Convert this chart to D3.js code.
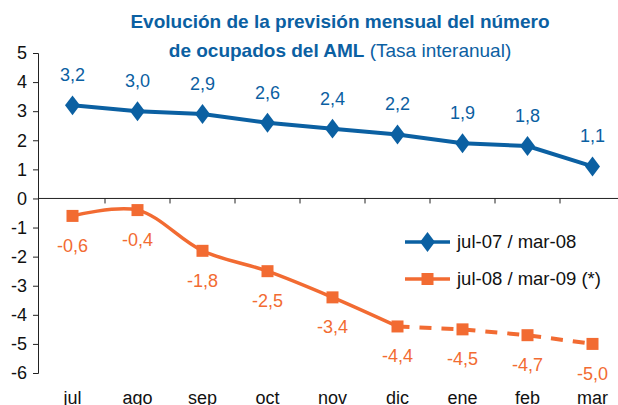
<!DOCTYPE html>
<html>
<head>
<meta charset="utf-8">
<script src="https://cdn.jsdelivr.net/npm/d3@7"></script>
<style>
  body { margin: 0; background: #fff; }
  text { font-family: "Liberation Sans", Arial, sans-serif; }
</style>
</head>
<body>
<script>
// data
var months = ["jul", "ago", "sep", "oct", "nov", "dic", "ene", "feb", "mar"];
var serie0708 = [3.2, 3.0, 2.9, 2.6, 2.4, 2.2, 1.9, 1.8, 1.1];
var serie0809 = [-0.6, -0.4, -1.8, -2.5, -3.4, -4.4, -4.5, -4.7, -5.0];
var yTicks = [5, 4, 3, 2, 1, 0, -1, -2, -3, -4, -5, -6];
var seriesNames = ["jul-07 / mar-08", "jul-08 / mar-09 (*)"];

var blue = "#0b60a2", orange = "#f26b32";
var W = 618, H = 405;

var svg = d3.select("body").append("svg")
  .attr("width", W)
  .attr("height", H);

var x = d3.scaleBand().domain(months).range([40, 625]);
var y = d3.scaleLinear().domain([-6, 5]).range([373, 53]);
// spanish decimals, plain hyphen for minus
var fmt = function(v) { return d3.format(".1f")(v).replace(".", ",").replace("\u2212", "-"); };

// title
svg.append("text")
  .attr("x", 340).attr("y", 28)
  .attr("text-anchor", "middle")
  .style("font-size", "19px").style("font-weight", "bold")
  .attr("fill", blue)
  .text("Evolución de la previsión mensual del número");
var t2 = svg.append("text")
  .attr("x", 340).attr("y", 57)
  .attr("text-anchor", "middle")
  .style("font-size", "19px")
  .attr("fill", blue);
t2.append("tspan").style("font-weight", "bold").text("de ocupados del AML");
t2.append("tspan").text(" (Tasa interanual)");

// y axis
var yAxis = svg.append("g")
  .attr("transform", "translate(38,0)")
  .call(d3.axisLeft(y).tickValues(yTicks).tickSize(5).tickPadding(6)
    .tickFormat(function(d) { return String(d); }));
yAxis.select(".domain").attr("stroke", "#222");
yAxis.selectAll(".tick line").attr("stroke", "#222");
yAxis.selectAll("text").style("font-size", "18px").attr("fill", "#111")
  .style("font-family", "'Liberation Sans', Arial, sans-serif");

// x axis on zero line
var xAxis = svg.append("g")
  .attr("transform", "translate(0," + y(0) + ")");
xAxis.append("line")
  .attr("x1", 38).attr("x2", W)
  .attr("stroke", "#222");
xAxis.selectAll("line.tk")
  .data(months.slice(1))
  .enter().append("line")
  .attr("class", "tk")
  .attr("x1", function(d) { return x(d); })
  .attr("x2", function(d) { return x(d); })
  .attr("y1", 0).attr("y2", 5)
  .attr("stroke", "#222");

// month labels
svg.selectAll("text.month")
  .data(months)
  .enter().append("text")
  .attr("class", "month")
  .attr("x", function(d) { return x(d) + x.bandwidth() / 2; })
  .attr("y", 404)
  .attr("text-anchor", "middle")
  .style("font-size", "18px")
  .attr("fill", "#111")
  .text(function(d) { return d; });

var cx = function(d, i) { return x(months[i]) + x.bandwidth() / 2; };

// series 1
var line = d3.line().x(cx).y(function(d) { return y(d); });
svg.append("path")
  .datum(serie0708)
  .attr("d", line)
  .attr("fill", "none")
  .attr("stroke", blue)
  .attr("stroke-width", 4);

var diamond = d3.symbol().type(d3.symbolDiamond).size(115);
svg.selectAll("path.dm")
  .data(serie0708)
  .enter().append("path")
  .attr("class", "dm")
  .attr("d", diamond)
  .attr("transform", function(d, i) { return "translate(" + cx(d, i) + "," + y(d) + ") scale(1.3,1)"; })
  .attr("fill", blue);

svg.selectAll("text.l1")
  .data(serie0708)
  .enter().append("text")
  .attr("class", "l1")
  .attr("x", cx)
  .attr("y", function(d) { return y(d) - 24; })
  .attr("text-anchor", "middle")
  .style("font-size", "18px")
  .attr("fill", blue)
  .text(fmt);

// series 2: solid up to dic, dashed after
var smooth = d3.line().x(cx).y(function(d) { return y(d); }).curve(d3.curveCatmullRom.alpha(0.5));
svg.append("path")
  .datum(serie0809.slice(0, 6))
  .attr("d", smooth)
  .attr("fill", "none")
  .attr("stroke", orange)
  .attr("stroke-width", 3.5);

var dashLine = d3.line()
  .x(function(d, i) { return cx(d, i + 5); })
  .y(function(d) { return y(d); });
svg.append("path")
  .datum(serie0809.slice(5))
  .attr("d", dashLine)
  .attr("fill", "none")
  .attr("stroke", orange)
  .attr("stroke-width", 4)
  .attr("stroke-dasharray", "12,10");

svg.selectAll("rect.sq")
  .data(serie0809)
  .enter().append("rect")
  .attr("class", "sq")
  .attr("x", function(d, i) { return cx(d, i) - 6; })
  .attr("y", function(d) { return y(d) - 6; })
  .attr("width", 12).attr("height", 12)
  .attr("fill", orange);

svg.selectAll("text.l2")
  .data(serie0809)
  .enter().append("text")
  .attr("class", "l2")
  .attr("x", cx)
  .attr("y", function(d) { return y(d) + 36; })
  .attr("text-anchor", "middle")
  .style("font-size", "18px")
  .attr("fill", orange)
  .text(fmt);

// legend
var legend = svg.append("g").attr("transform", "translate(405,242)");
var items = [
  { name: seriesNames[0], color: blue },
  { name: seriesNames[1], color: orange }
];
var li = legend.selectAll("g")
  .data(items)
  .enter().append("g")
  .attr("transform", function(d, i) { return "translate(0," + i * 37 + ")"; });
li.append("line")
  .attr("x1", 0).attr("x2", 45)
  .attr("stroke", function(d) { return d.color; })
  .attr("stroke-width", 3.5);
li.filter(function(d, i) { return i === 0; }).append("path")
  .attr("d", diamond)
  .attr("transform", "translate(22.5,0) scale(1.3,1)")
  .attr("fill", blue);
li.filter(function(d, i) { return i === 1; }).append("rect")
  .attr("x", 16.5).attr("y", -6).attr("width", 12).attr("height", 12)
  .attr("fill", orange);
li.append("text")
  .attr("x", 52).attr("y", 6)
  .style("font-size", "18.5px")
  .attr("fill", "#111")
  .text(function(d) { return d.name; });
</script>
</body>
</html>
